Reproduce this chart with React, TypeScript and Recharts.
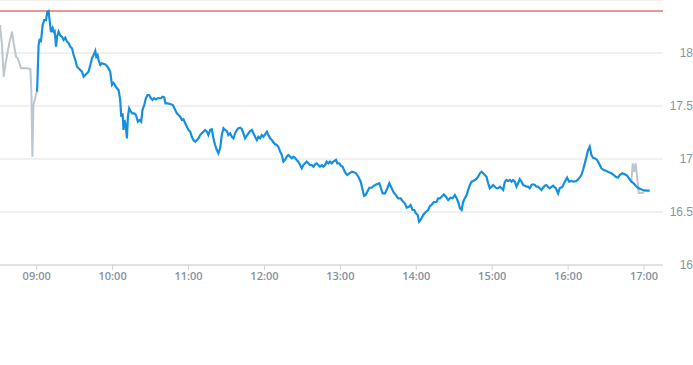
import { CartesianGrid, Line, LineChart, ReferenceLine, XAxis, YAxis } from "recharts";

// minutes since midnight / price
const preTimes = [511, 512.6, 513.9, 515.2, 516.6, 518.6, 520.5, 521.8, 523.7, 525, 526.3, 527.6, 529.7, 532.4, 535, 535.8, 536.6, 537.4, 538.4, 539.7, 540.3];
const prePrices = [18.264, 18.075, 17.776, 17.887, 17.981, 18.107, 18.201, 18.092, 17.965, 17.95, 17.903, 17.856, 17.856, 17.856, 17.849, 17.635, 17.022, 17.509, 17.557, 17.62, 17.635];

const mainTimes = [
  540.3, 541.5, 542.3, 543.4, 544.7, 546, 547.4, 548.4, 549.4, 550.2, 551.3, 552.6, 553.4, 554.2, 555.3, 556.1, 557.3, 558.7, 560, 561.3,
  562.6, 564, 565.2, 566.6, 567.9, 569.2, 570.5, 571.9, 573.1, 574.5, 575.8, 577.1, 578.4, 579.8, 581, 582.4, 583.7, 585, 586.3, 587.1,
  588.1, 588.9, 590.3, 591.6, 594.2, 596, 598.1, 599.5, 600.7, 603.4, 604.7, 606, 606.8, 607.9, 608.6, 609.4, 610.5, 611.3, 612.1, 613.1,
  614.5, 615.5, 617.1, 618.4, 620, 621.3, 622.6, 623.6, 625, 626.3, 627.6, 628.9, 630.3, 631.5, 632.9, 634.2, 635.5, 636.8, 638.2, 639.4,
  640.8, 641.8, 643.4, 645.5, 647.6, 649.5, 650.8, 652.1, 653.4, 654.8, 656, 657.4, 658.7, 660, 661.3, 662.6, 663.9, 665.3, 666.6, 667.9,
  669.2, 670.5, 671.8, 673.1, 674.5, 675.7, 677.1, 678.4, 679.7, 681, 682.4, 683.6, 685, 686.3, 687.6, 688.9, 690.3, 691.5, 692.9, 694.2,
  695.5, 696.8, 698.2, 699.4, 700.8, 702.1, 703.4, 704.7, 706.1, 707.3, 708.7, 710, 711.3, 712.6, 714, 715.2, 716.6, 717.9, 719.2, 720.5,
  721.9, 723.1, 724.5, 725.8, 727.1, 728.4, 729.8, 731, 732.4, 733.7, 735, 736.3, 737.6, 738.9, 740.3, 741.6, 742.9, 744.2, 745.5, 746.8,
  748.2, 749.5, 750.8, 752.1, 753.4, 754.7, 756, 757.4, 758.7, 760, 761.3, 762.6, 763.9, 765.3, 766.5, 767.9, 769.2, 770.5, 771.8, 773.2,
  774.4, 776.6, 777.6, 779.2, 780.3, 781.9, 782.9, 784.2, 785.5, 787.1, 789, 790.8, 792.4, 794.2, 796.1, 797.3, 798.7, 800, 801.3, 802.9,
  804.7, 806.6, 808.7, 810.8, 812.1, 813.4, 815.3, 817.1, 818.7, 820, 821.8, 823.9, 825.7, 827.6, 829.2, 831, 832.4, 834.2, 835.5, 837.1,
  838.4, 839.7, 841.1, 842.3, 843.9, 845.5, 847.4, 849.4, 850.8, 852.1, 853.9, 856.1, 857.3, 858.7, 860, 861.8, 863.4, 865.2, 867.1, 868.7,
  870.5, 871.9, 873.1, 874.5, 875.8, 877.1, 878.4, 879.8, 881, 882.4, 883.7, 885, 886.3, 887.6, 888.9, 890.3, 891.6, 892.9, 894.2, 895.5,
  896.8, 898.1, 899.5, 900.8, 902.1, 903.4, 904.7, 906.1, 907.4, 908.7, 910, 911.3, 912.6, 914, 915.3, 916.5, 917.9, 919.2, 920.5, 921.8,
  923.2, 924.4, 925.8, 927.1, 928.4, 929.7, 931.1, 932.3, 933.7, 935, 936.3, 937.6, 939, 940.2, 941.6, 942.9, 944.2, 945.5, 948.1, 950.3,
  952.1, 953.4, 955.5, 957.4, 959.2, 960.8, 962.6, 964.5, 966.6, 968.7, 970.5, 971.8, 973.2, 974.5, 975.8, 977.1, 978.4, 979.7, 981, 982.9,
  984.4, 986.3, 988.2, 990.3, 992.3, 994.2, 996.1, 997.6, 999.5, 1000.8, 1002.9, 1004.7, 1006.6, 1008.1, 1010, 1011.8, 1013.4, 1015.2, 1017.1, 1019.2,
  1021.9, 1024.5,
];
const mainPrices = [
  17.635, 18.075, 18.123, 18.113, 18.264, 18.311, 18.311, 18.39, 18.396, 18.311, 18.198, 18.236, 18.201, 18.208, 18.06, 18.154, 18.201, 18.163, 18.154, 18.123,
  18.144, 18.107, 18.094, 18.059, 18.044, 17.981, 17.934, 17.871, 17.856, 17.84, 17.824, 17.776, 17.792, 17.808, 17.824, 17.887, 17.95, 17.981, 18.019, 17.965,
  17.981, 17.934, 17.887, 17.903, 17.893, 17.871, 17.824, 17.698, 17.717, 17.667, 17.651, 17.557, 17.399, 17.431, 17.274, 17.368, 17.305, 17.195, 17.399, 17.478,
  17.446, 17.431, 17.431, 17.415, 17.352, 17.368, 17.352, 17.462, 17.509, 17.573, 17.604, 17.604, 17.573, 17.557, 17.573, 17.563, 17.573, 17.573, 17.573, 17.588,
  17.582, 17.525, 17.525, 17.519, 17.509, 17.462, 17.431, 17.415, 17.399, 17.368, 17.375, 17.337, 17.305, 17.274, 17.258, 17.21, 17.179, 17.163, 17.179, 17.195,
  17.226, 17.242, 17.258, 17.274, 17.258, 17.226, 17.274, 17.28, 17.195, 17.132, 17.085, 17.054, 17.101, 17.226, 17.29, 17.274, 17.264, 17.226, 17.242, 17.21,
  17.195, 17.242, 17.274, 17.29, 17.295, 17.283, 17.242, 17.195, 17.22, 17.242, 17.264, 17.274, 17.242, 17.21, 17.179, 17.21, 17.195, 17.226, 17.21, 17.233,
  17.258, 17.226, 17.195, 17.179, 17.158, 17.139, 17.132, 17.116, 17.069, 17.038, 16.975, 16.991, 17.022, 17.038, 17.022, 17.007, 17.022, 17.012, 16.991, 16.975,
  16.943, 16.912, 16.943, 16.959, 16.975, 16.959, 16.943, 16.943, 16.927, 16.95, 16.959, 16.943, 16.927, 16.943, 16.927, 16.943, 16.975, 16.959, 16.975, 16.959,
  16.975, 16.991, 16.959, 16.959, 16.937, 16.927, 16.896, 16.865, 16.849, 16.865, 16.88, 16.875, 16.865, 16.833, 16.786, 16.724, 16.654, 16.66, 16.692, 16.729,
  16.729, 16.748, 16.761, 16.771, 16.724, 16.676, 16.676, 16.724, 16.771, 16.739, 16.692, 16.66, 16.629, 16.629, 16.604, 16.582, 16.541, 16.55, 16.566, 16.519,
  16.519, 16.488, 16.472, 16.409, 16.434, 16.472, 16.5, 16.519, 16.557, 16.566, 16.594, 16.597, 16.629, 16.629, 16.644, 16.667, 16.644, 16.613, 16.635, 16.629,
  16.66, 16.629, 16.597, 16.535, 16.519, 16.597, 16.629, 16.66, 16.708, 16.755, 16.786, 16.792, 16.802, 16.811, 16.833, 16.865, 16.88, 16.865, 16.849, 16.833,
  16.771, 16.724, 16.739, 16.755, 16.739, 16.724, 16.724, 16.739, 16.724, 16.708, 16.786, 16.802, 16.792, 16.802, 16.786, 16.802, 16.786, 16.739, 16.771, 16.811,
  16.786, 16.755, 16.748, 16.739, 16.739, 16.724, 16.755, 16.761, 16.755, 16.739, 16.739, 16.724, 16.708, 16.729, 16.748, 16.755, 16.739, 16.724, 16.748, 16.724,
  16.676, 16.724, 16.739, 16.786, 16.824, 16.786, 16.792, 16.786, 16.792, 16.818, 16.849, 16.896, 16.959, 17.022, 17.085, 17.116, 17.038, 17.012, 17.007, 16.991,
  16.959, 16.912, 16.896, 16.887, 16.875, 16.865, 16.849, 16.833, 16.824, 16.849, 16.865, 16.856, 16.843, 16.818, 16.786, 16.771, 16.748, 16.729, 16.717, 16.708,
  16.701, 16.701,
];

const postTimes = [1010, 1011.1, 1012.2, 1013.4, 1014.6, 1015.8, 1018.9, 1020.5];
const postPrices = [16.786, 16.959, 16.877, 16.959, 16.821, 16.679, 16.679, 16.703];

const xTicks = [540, 600, 660, 720, 780, 840, 900, 960, 1020];
const yTicks = [16, 16.5, 17, 17.5, 18];
const dayHigh = 18.396;

const CHART_W = 693;

const toRows = (times: number[], prices: number[]) => times.map((t, i) => ({ t, price: prices[i] }));
const preData = toRows(preTimes, prePrices);
const mainData = toRows(mainTimes, mainPrices);
const postData = toRows(postTimes, postPrices);

const fmtTime = (m: number) => {
  const h = Math.floor(m / 60);
  const mm = Math.round(m % 60);
  return `${String(h).padStart(2, "0")}:${String(mm).padStart(2, "0")}`;
};

// labels are right-aligned against the chart's right edge
function PriceTick({ y, payload }: any) {
  return (
    <text x={CHART_W} y={y} dy={4} textAnchor="end" fill="#8a949e" fontSize={12} fontFamily="'Liberation Sans', Arial, sans-serif">
      {payload.value}
    </text>
  );
}

export default function App() {
  return (
    <div style={{ position: "absolute", left: 0, top: 0, width: CHART_W, height: 365, background: "#fff" }}>
      <LineChart width={CHART_W} height={365} margin={{ top: 0, right: 0, bottom: 70, left: 0 }}>
        <CartesianGrid vertical={false} stroke="#e2e2e2" />
        <XAxis
          type="number"
          dataKey="t"
          domain={[511, 1035]}
          allowDataOverflow
          ticks={xTicks}
          tickFormatter={fmtTime}
          stroke="#cfd4d9"
          tickSize={5}
          height={30}
          tick={{ fill: "#8592a0", fontSize: 11, fontWeight: 600, fontFamily: "'Open Sans', sans-serif" }}
        />
        <YAxis
          orientation="right"
          type="number"
          domain={[16, 18.5]}
          ticks={yTicks}
          width={30}
          axisLine={false}
          tickLine={false}
          tick={<PriceTick />}
        />
        <ReferenceLine y={dayHigh} stroke="#d42f2f" strokeWidth={1} />
        <Line data={preData} dataKey="price" stroke="#bcc6cf" strokeWidth={2} dot={false} activeDot={false} isAnimationActive={false} />
        <Line data={postData} dataKey="price" stroke="#bcc6cf" strokeWidth={2} dot={false} activeDot={false} isAnimationActive={false} />
        <Line data={mainData} dataKey="price" stroke="#1590de" strokeWidth={2.2} dot={false} activeDot={false} isAnimationActive={false} />
      </LineChart>
    </div>
  );
}
